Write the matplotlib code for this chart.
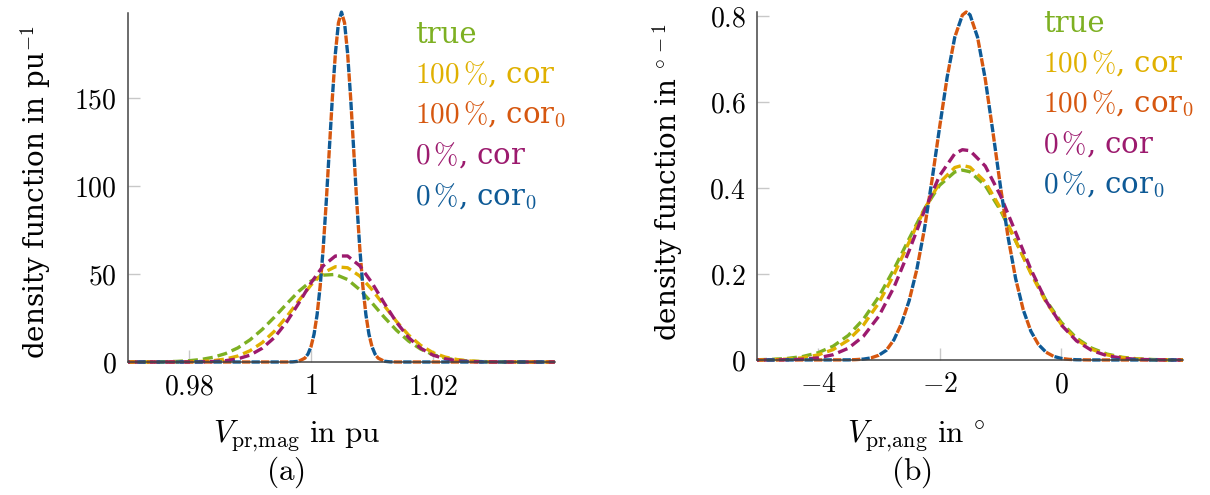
import matplotlib
matplotlib.use('Agg')
import matplotlib.pyplot as plt

plt.rcParams['mathtext.fontset'] = 'cm'
plt.rcParams['font.family'] = ['DejaVu Serif']

# ---------------- data ----------------
# (a) voltage magnitude, broad curves share one grid
mag_x = [0.970, 0.976, 0.978, 0.980, 0.982, 0.984, 0.986, 0.988, 0.990, 0.992,
         0.994, 0.996, 0.998, 1.000, 1.002, 1.004, 1.006, 1.008, 1.010, 1.012,
         1.014, 1.016, 1.018, 1.020, 1.022, 1.024, 1.026, 1.028, 1.030, 1.032, 1.040]
mag_true = [0.0, 0.15, 0.34, 0.72, 1.45, 2.7, 4.8, 8.0, 12.6, 18.5,
            25.5, 33.0, 40.2, 46.0, 49.4, 49.8, 46.9, 41.1, 33.6, 25.5,
            18.1, 11.9, 7.3, 4.2, 2.2, 1.1, 0.5, 0.22, 0.09, 0.03, 0.0]
mag_100_cor = [0.0, 0.02, 0.05, 0.13, 0.33, 0.78, 1.7, 3.4, 6.4, 11.0,
               17.5, 25.7, 34.9, 43.8, 50.7, 54.2, 53.6, 48.9, 41.2, 32.1,
               23.1, 15.3, 9.4, 5.3, 2.8, 1.36, 0.6, 0.25, 0.1, 0.04, 0.0]
mag_0_cor = [0.0, 0.0, 0.01, 0.03, 0.1, 0.28, 0.74, 1.8, 3.9, 7.8,
             13.9, 22.7, 33.5, 45.0, 54.7, 60.3, 60.3, 54.7, 45.0, 33.5,
             22.7, 13.9, 7.8, 3.9, 1.8, 0.74, 0.28, 0.1, 0.03, 0.01, 0.0]
# narrow curves (cor0)
mag_x_n = [0.970, 0.996, 0.997, 0.998, 0.999, 0.9995, 1.000, 1.0005, 1.001, 1.0015,
           1.002, 1.0025, 1.003, 1.0035, 1.004, 1.0045, 1.005, 1.0055, 1.006, 1.0065,
           1.007, 1.0075, 1.008, 1.0085, 1.009, 1.0095, 1.010, 1.0105, 1.011, 1.012,
           1.013, 1.014, 1.040]
mag_100_cor0 = [0.0, 0.0, 0.07, 0.44, 2.2, 4.5, 8.7, 15.8, 26.9, 43.0,
                64.6, 91.1, 120.7, 150.2, 175.6, 192.9, 199.0, 192.9, 175.6, 150.2,
                120.7, 91.1, 64.6, 43.0, 26.9, 15.8, 8.7, 4.5, 2.2, 0.44,
                0.07, 0.0, 0.0]
mag_0_cor0 = list(mag_100_cor0)

# (b) voltage angle
ang_x = [-5.0, -4.75, -4.5, -4.25, -4.0, -3.75, -3.5, -3.25, -3.0, -2.75,
         -2.5, -2.25, -2.0, -1.75, -1.625, -1.5, -1.25, -1.0, -0.75, -0.5,
         -0.25, 0.0, 0.25, 0.5, 0.75, 1.0, 1.25, 1.5, 1.75, 2.0]
ang_true = [0.0006, 0.0015, 0.0037, 0.0081, 0.0167, 0.0321, 0.0572, 0.0951, 0.1470, 0.2113,
            0.2824, 0.3514, 0.4066, 0.4377, 0.4420, 0.4381, 0.4062, 0.3486, 0.2770, 0.2038,
            0.1388, 0.0875, 0.0510, 0.0276, 0.0138, 0.0064, 0.0027, 0.0011, 0.0004, 0.0001]
ang_100_cor = [0.0003, 0.0008, 0.0021, 0.0052, 0.0117, 0.0242, 0.0462, 0.0816, 0.1325, 0.1986,
               0.2747, 0.3506, 0.4127, 0.4480, 0.4530, 0.4488, 0.4147, 0.3534, 0.2777, 0.2015,
               0.1348, 0.0832, 0.0474, 0.0249, 0.0121, 0.0054, 0.0022, 0.0008, 0.0003, 0.0001]
ang_0_cor = [0.0000, 0.0002, 0.0006, 0.0018, 0.0049, 0.0122, 0.0273, 0.0554, 0.1016, 0.1691,
             0.2545, 0.3472, 0.4290, 0.4802, 0.4895, 0.4872, 0.4515, 0.3829, 0.2972, 0.2111,
             0.1373, 0.0817, 0.0445, 0.0222, 0.0101, 0.0042, 0.0016, 0.0006, 0.0002, 0.0000]
ang_x_n = [-5.0, -3.5, -3.375, -3.25, -3.125, -3.0, -2.875, -2.75, -2.625, -2.5,
           -2.375, -2.25, -2.125, -2.0, -1.875, -1.75, -1.625, -1.5625, -1.5, -1.375,
           -1.25, -1.125, -1.0, -0.875, -0.75, -0.625, -0.5, -0.375, -0.25, -0.125,
           0.0, 0.125, 0.25, 0.5, 2.0]
ang_100_cor0 = [0.0, 0.0003, 0.0009, 0.0021, 0.0049, 0.0110, 0.0225, 0.0470, 0.0850, 0.1380,
                0.2100, 0.3040, 0.4180, 0.5413, 0.6587, 0.7514, 0.8029, 0.8100, 0.8035, 0.7509,
                0.6546, 0.5325, 0.4042, 0.2863, 0.1893, 0.1167, 0.0671, 0.0360, 0.0181, 0.0084,
                0.0037, 0.0015, 0.0006, 0.0001, 0.0]
ang_0_cor0 = list(ang_100_cor0)

labels = ['true', r'$100\,\%$, cor', r'$100\,\%$, cor$_0$', r'$0\,\%$, cor', r'$0\,\%$, cor$_0$']
colors = ['#7db022', '#e0b000', '#d6570f', '#9c1a6e', '#0e5a96']

# ---------------- figure ----------------
W, H = 1210, 495
fig = plt.figure(figsize=(W / 100, H / 100), dpi=100)
ax1 = fig.add_axes([128 / W, 1 - 362 / H, 427 / W, 349 / H])
ax2 = fig.add_axes([757 / W, 1 - 360 / H, 426 / W, 348 / H])

lw = 2.4
dash = (3.0, 1.5)
# orange and blue share the same curve: alternate their dashes
a, g = 2.5, 0.35
P = 2 * (a + g)
dash_or = (0, (a, P - a))
dash_bl = (P - (a + g), (a, P - a))


def draw(ax, xb, yt, y1c, y0c, xn, y1c0, y0c0):
    ax.plot(xb, yt, color=colors[0], lw=lw, ls=(0, dash), clip_on=False)
    ax.plot(xb, y1c, color=colors[1], lw=lw, ls=(1.2, dash), clip_on=False)
    ax.plot(xn, y1c0, color=colors[2], lw=lw, ls=dash_or, clip_on=False)
    ax.plot(xb, y0c, color=colors[3], lw=lw, ls=(2.4, dash), clip_on=False)
    ax.plot(xn, y0c0, color=colors[4], lw=lw, ls=dash_bl, clip_on=False)


draw(ax1, mag_x, mag_true, mag_100_cor, mag_0_cor, mag_x_n, mag_100_cor0, mag_0_cor0)
draw(ax2, ang_x, ang_true, ang_100_cor, ang_0_cor, ang_x_n, ang_100_cor0, ang_0_cor0)

ax1.set_xlim(0.97, 1.04)
ax1.set_ylim(0, 198.5)
ax1.set_xticks([0.98, 1.0, 1.02])
ax1.set_xticklabels([r'$0.98$', r'$1$', r'$1.02$'])
ax1.set_yticks([0, 50, 100, 150])
ax1.set_yticklabels([r'$0$', r'$50$', r'$100$', r'$150$'])

ax2.set_xlim(-5, 2)
ax2.set_ylim(0, 0.81)
ax2.set_xticks([-4, -2, 0])
ax2.set_xticklabels([r'$-4$', r'$-2$', r'$0$'])
ax2.set_yticks([0, 0.2, 0.4, 0.6, 0.8])
ax2.set_yticklabels([r'$0$', r'$0.2$', r'$0.4$', r'$0.6$', r'$0.8$'])

for ax in (ax1, ax2):
    ax.spines['top'].set_visible(False)
    ax.spines['right'].set_visible(False)
    for s in ('left', 'bottom'):
        ax.spines[s].set_color('#444444')
        ax.spines[s].set_linewidth(1.1)
    ax.tick_params(direction='in', length=8.5, width=1, color='#c8c8c8',
                   labelsize=20, pad=8)
    ax.set_facecolor('none')

# axis labels and captions
fig.text(36 / W, 1 - 192 / H, r'density function in pu$^{-1}$', rotation=90,
         ha='center', va='center', fontsize=20)
fig.text(668 / W, 1 - 182 / H, r'density function in $^{\circ\,-1}$', rotation=90,
         ha='center', va='center', fontsize=20)
fig.text(297 / W, 1 - 442 / H, r'$V_{\mathrm{pr{,}mag}}\ \mathrm{in\ pu}$',
         ha='center', va='baseline', fontsize=22.5)
fig.text(916 / W, 1 - 442 / H, r'$V_{\mathrm{pr{,}ang}}\ \mathrm{in}\ ^{\circ}$',
         ha='center', va='baseline', fontsize=22.5)
fig.text(285 / W, 1 - 480 / H, r'$\mathrm{(a)}$', ha='center', va='baseline', fontsize=22.5)
fig.text(911 / W, 1 - 480 / H, r'$\mathrm{(b)}$', ha='center', va='baseline', fontsize=22.5)

# legends as coloured text
base_l = [43, 83, 123, 164, 205]
base_r = [32, 72, 112, 153, 193]
for lab, c, bl, br in zip(labels, colors, base_l, base_r):
    fig.text(415 / W, 1 - bl / H, lab, color=c, fontsize=21, ha='left', va='baseline')
    fig.text(1043 / W, 1 - br / H, lab, color=c, fontsize=21, ha='left', va='baseline')

fig.savefig('out.png', dpi=100)
